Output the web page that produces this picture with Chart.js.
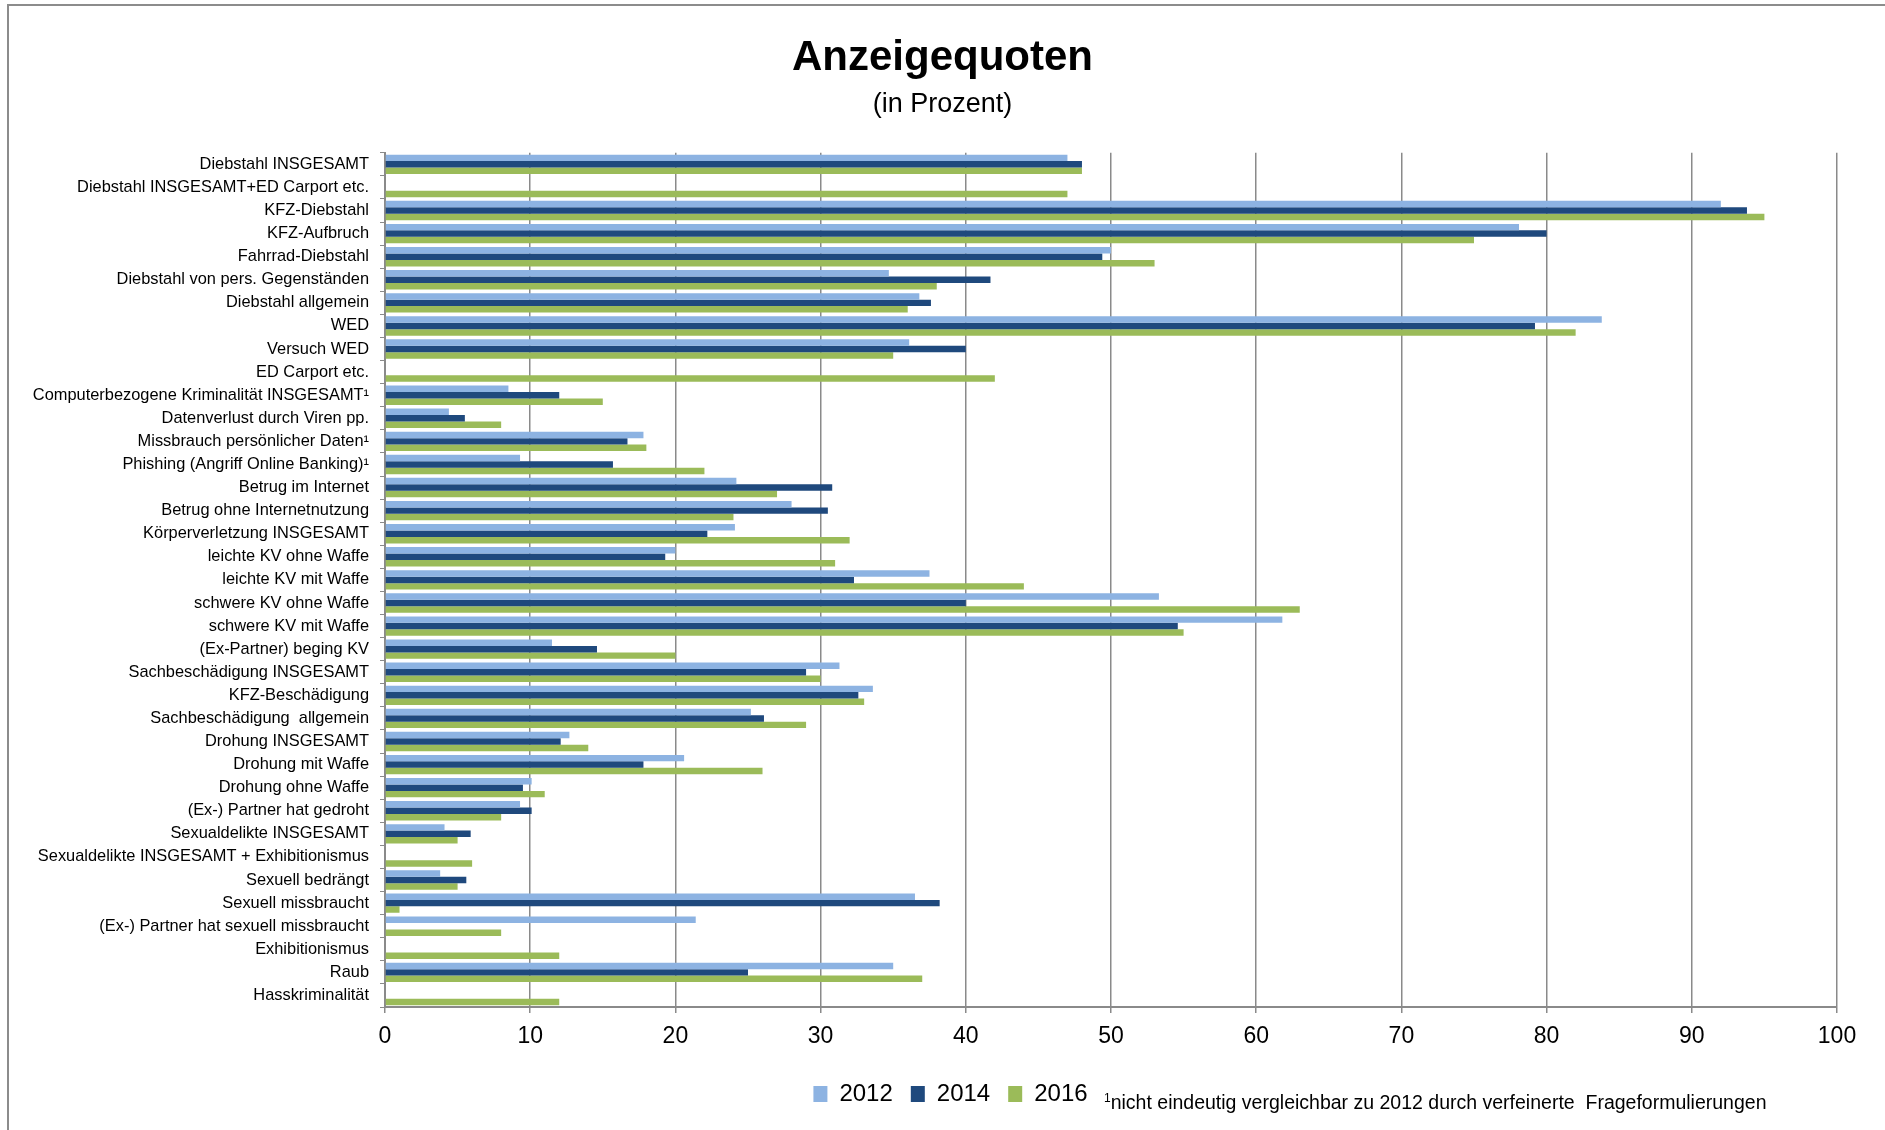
<!DOCTYPE html>
<html>
<head>
<meta charset="utf-8">
<script src="https://cdn.jsdelivr.net/npm/chart.js@4.4.0/dist/chart.umd.min.js"></script>
<style>
  body { margin: 0; background: #fff; overflow: hidden; }
  #frame { position: absolute; left: 7px; top: 4px; width: 1920px; height: 1200px; border: 2px solid #8c8c8c; box-sizing: border-box; }
  #wrap { position: absolute; left: 0; top: 0; width: 1885px; height: 1130px; }
  #note { position: absolute; left: 1104px; top: 1091px; font-family: 'Liberation Sans', Arial, sans-serif; font-size: 19.5px; color: #000; white-space: pre; }
  #note sup { font-size: 12px; vertical-align: 7px; }
</style>
</head>
<body>
<div id="frame"></div>
<div id="wrap"><canvas id="chart" width="1885" height="1130"></canvas></div>
<div id="note"><sup>1</sup>nicht eindeutig vergleichbar zu 2012 durch verfeinerte  Frageformulierungen</div>
<script>
// categories (top to bottom)
const categories = [
  'Diebstahl INSGESAMT',
  'Diebstahl INSGESAMT+ED Carport etc.',
  'KFZ-Diebstahl',
  'KFZ-Aufbruch',
  'Fahrrad-Diebstahl',
  'Diebstahl von pers. Gegenständen',
  'Diebstahl allgemein',
  'WED',
  'Versuch WED',
  'ED Carport etc.',
  'Computerbezogene Kriminalität INSGESAMT¹',
  'Datenverlust durch Viren pp.',
  'Missbrauch persönlicher Daten¹',
  'Phishing (Angriff Online Banking)¹',
  'Betrug im Internet',
  'Betrug ohne Internetnutzung',
  'Körperverletzung INSGESAMT',
  'leichte KV ohne Waffe',
  'leichte KV mit Waffe',
  'schwere KV ohne Waffe',
  'schwere KV mit Waffe',
  '(Ex-Partner) beging KV',
  'Sachbeschädigung INSGESAMT',
  'KFZ-Beschädigung',
  'Sachbeschädigung  allgemein',
  'Drohung INSGESAMT',
  'Drohung mit Waffe',
  'Drohung ohne Waffe',
  '(Ex-) Partner hat gedroht',
  'Sexualdelikte INSGESAMT',
  'Sexualdelikte INSGESAMT + Exhibitionismus',
  'Sexuell bedrängt',
  'Sexuell missbraucht',
  '(Ex-) Partner hat sexuell missbraucht',
  'Exhibitionismus',
  'Raub',
  'Hasskriminalität'
];

const years = ['2012', '2014', '2016'];

const values2012 = [47, null, 92, 78.1, 50, 34.7, 36.8, 83.8, 36.1, null,
  8.5, 4.4, 17.8, 9.3, 24.2, 28, 24.1, 20, 37.5, 53.3,
  61.8, 11.5, 31.3, 33.6, 25.2, 12.7, 20.6, 10.1, 9.3, 4.1,
  null, 3.8, 36.5, 21.4, null, 35, null];

const values2014 = [48, null, 93.8, 80, 49.4, 41.7, 37.6, 79.2, 40, null,
  12, 5.5, 16.7, 15.7, 30.8, 30.5, 22.2, 19.3, 32.3, 40,
  54.6, 14.6, 29, 32.6, 26.1, 12.1, 17.8, 9.5, 10.1, 5.9,
  null, 5.6, 38.2, null, null, 25, null];

const values2016 = [48, 47, 95, 75, 53, 38, 36, 82, 35, 42,
  15, 8, 18, 22, 27, 24, 32, 31, 44, 63,
  55, 20, 30, 33, 29, 14, 26, 11, 8, 5,
  6, 5, 1, 8, 12, 37, 12];

const colors = ['#8db3e2', '#1f497d', '#9bbb59'];
const font = "'Liberation Sans', Arial, sans-serif";
const gridGray = '#8a8a8a';

const data = {
  labels: categories,
  datasets: [values2012, values2014, values2016].map((vals, i) => ({
    label: years[i],
    data: vals,
    backgroundColor: colors[i],
    borderWidth: 0,
    categoryPercentage: 0.84,
    barPercentage: 1.0
  }))
};

// nudge the legend a little to the right, like the original
const legendShift = {
  id: 'legendShift',
  afterLayout(chart) {
    chart.legend.left += 8;
    chart.legend.right += 8;
  }
};

const config = {
  type: 'bar',
  data: data,
  plugins: [legendShift],
  options: {
    indexAxis: 'y',
    responsive: false,
    animation: false,
    layout: { padding: { left: 0, right: 0, top: 0, bottom: 14 } },
    plugins: {
      title: {
        display: true,
        text: 'Anzeigequoten',
        color: '#000',
        font: { family: font, size: 42, weight: 'bold' },
        padding: { top: 33, bottom: 0 }
      },
      subtitle: {
        display: true,
        text: '(in Prozent)',
        color: '#000',
        font: { family: font, size: 27 },
        padding: { top: 5, bottom: 32 }
      },
      legend: {
        position: 'bottom',
        labels: {
          color: '#000',
          font: { family: font, size: 24 },
          boxWidth: 14,
          boxHeight: 16,
          padding: 18
        }
      },
      tooltip: { enabled: false }
    },
    scales: {
      x: {
        min: 0,
        max: 100,
        ticks: { stepSize: 10, color: '#000', font: { family: font, size: 23 }, padding: 10 },
        grid: { color: gridGray, lineWidth: 1.5, tickLength: 6, drawTicks: true },
        border: { color: gridGray, width: 2 },
        afterFit: (scale) => { scale.height = 57; scale.paddingRight = 48; }
      },
      y: {
        ticks: { color: '#000', font: { family: font, size: 16.4 }, padding: 11, autoSkip: false },
        grid: { drawOnChartArea: false, drawTicks: true, tickLength: 5, color: gridGray, offset: true },
        border: { color: gridGray, width: 2 },
        afterFit: (scale) => { scale.width = 385; }
      }
    }
  }
};

new Chart(document.getElementById('chart'), config);
</script>
</body>
</html>
